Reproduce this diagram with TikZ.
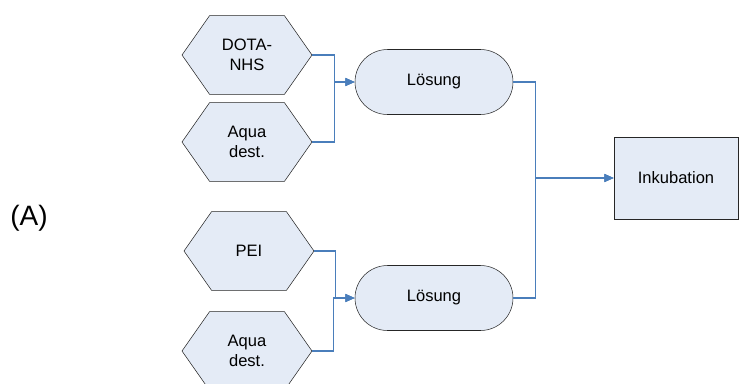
\documentclass[tikz,border=0pt]{standalone}
\usepackage{fontspec}
\setmainfont{Liberation Sans}
\usetikzlibrary{shapes.symbols,shapes.misc,arrows.meta}
\definecolor{boxfill}{HTML}{E4EBF6}
\definecolor{flowline}{HTML}{4A7EBB}
\tikzset{
  stoff/.style={draw=black!85,fill=boxfill,signal,signal to=east and west,signal pointer angle=110,
    minimum width=97.5pt,minimum height=59pt,inner sep=0pt,align=center,font=\fontsize{12.4}{15}\selectfont},
  loesung/.style={draw=black!85,fill=boxfill,rounded rectangle,minimum width=118.5pt,minimum height=48.75pt,
    inner sep=0pt,font=\fontsize{12.4}{15}\selectfont},
  schritt/.style={draw=black!85,fill=boxfill,rectangle,minimum width=93pt,minimum height=61.5pt,
    inner sep=0pt,font=\fontsize{12.4}{15}\selectfont},
  fluss/.style={draw=flowline,line width=0.8pt,-{Triangle[length=7pt,width=6pt]}}
}
\begin{document}
\begin{tikzpicture}[x=0.75pt,y=-0.75pt]
\clip (0,0) rectangle (739,383);

% label
\node[font=\fontsize{21}{24}\selectfont] (label) at (29,218) {(A)};

% Ausgangsstoffe
\node[stoff] (dota) at (247,55) {DOTA-\\NHS};
\node[stoff] (aqua1) at (247,142) {Aqua\\dest.};
\node[stoff] (pei) at (249,251) {PEI};
\node[stoff] (aqua2) at (247,351) {Aqua\\dest.};

% Loesungen
\node[loesung] (loes1) at (434,82) {Lösung};
\node[loesung] (loes2) at (434,298) {Lösung};

% Inkubation
\node[schritt] (inku) at (676,178) {Inkubation};

% Verbindungen
\draw[fluss] (dota.east) -- ++(22,0) |- (loes1.west);
\draw[fluss] (aqua1.east) -- ++(22,0) |- (loes1.west);
\draw[fluss] (pei.east) -- ++(21,0) |- (loes2.west);
\draw[fluss] (aqua2.east) -- ++(21,0) |- (loes2.west);
\draw[fluss] (loes1.east) -- ++(22,0) |- (inku.west);
\draw[fluss] (loes2.east) -- ++(22,0) |- (inku.west);
\end{tikzpicture}
\end{document}
